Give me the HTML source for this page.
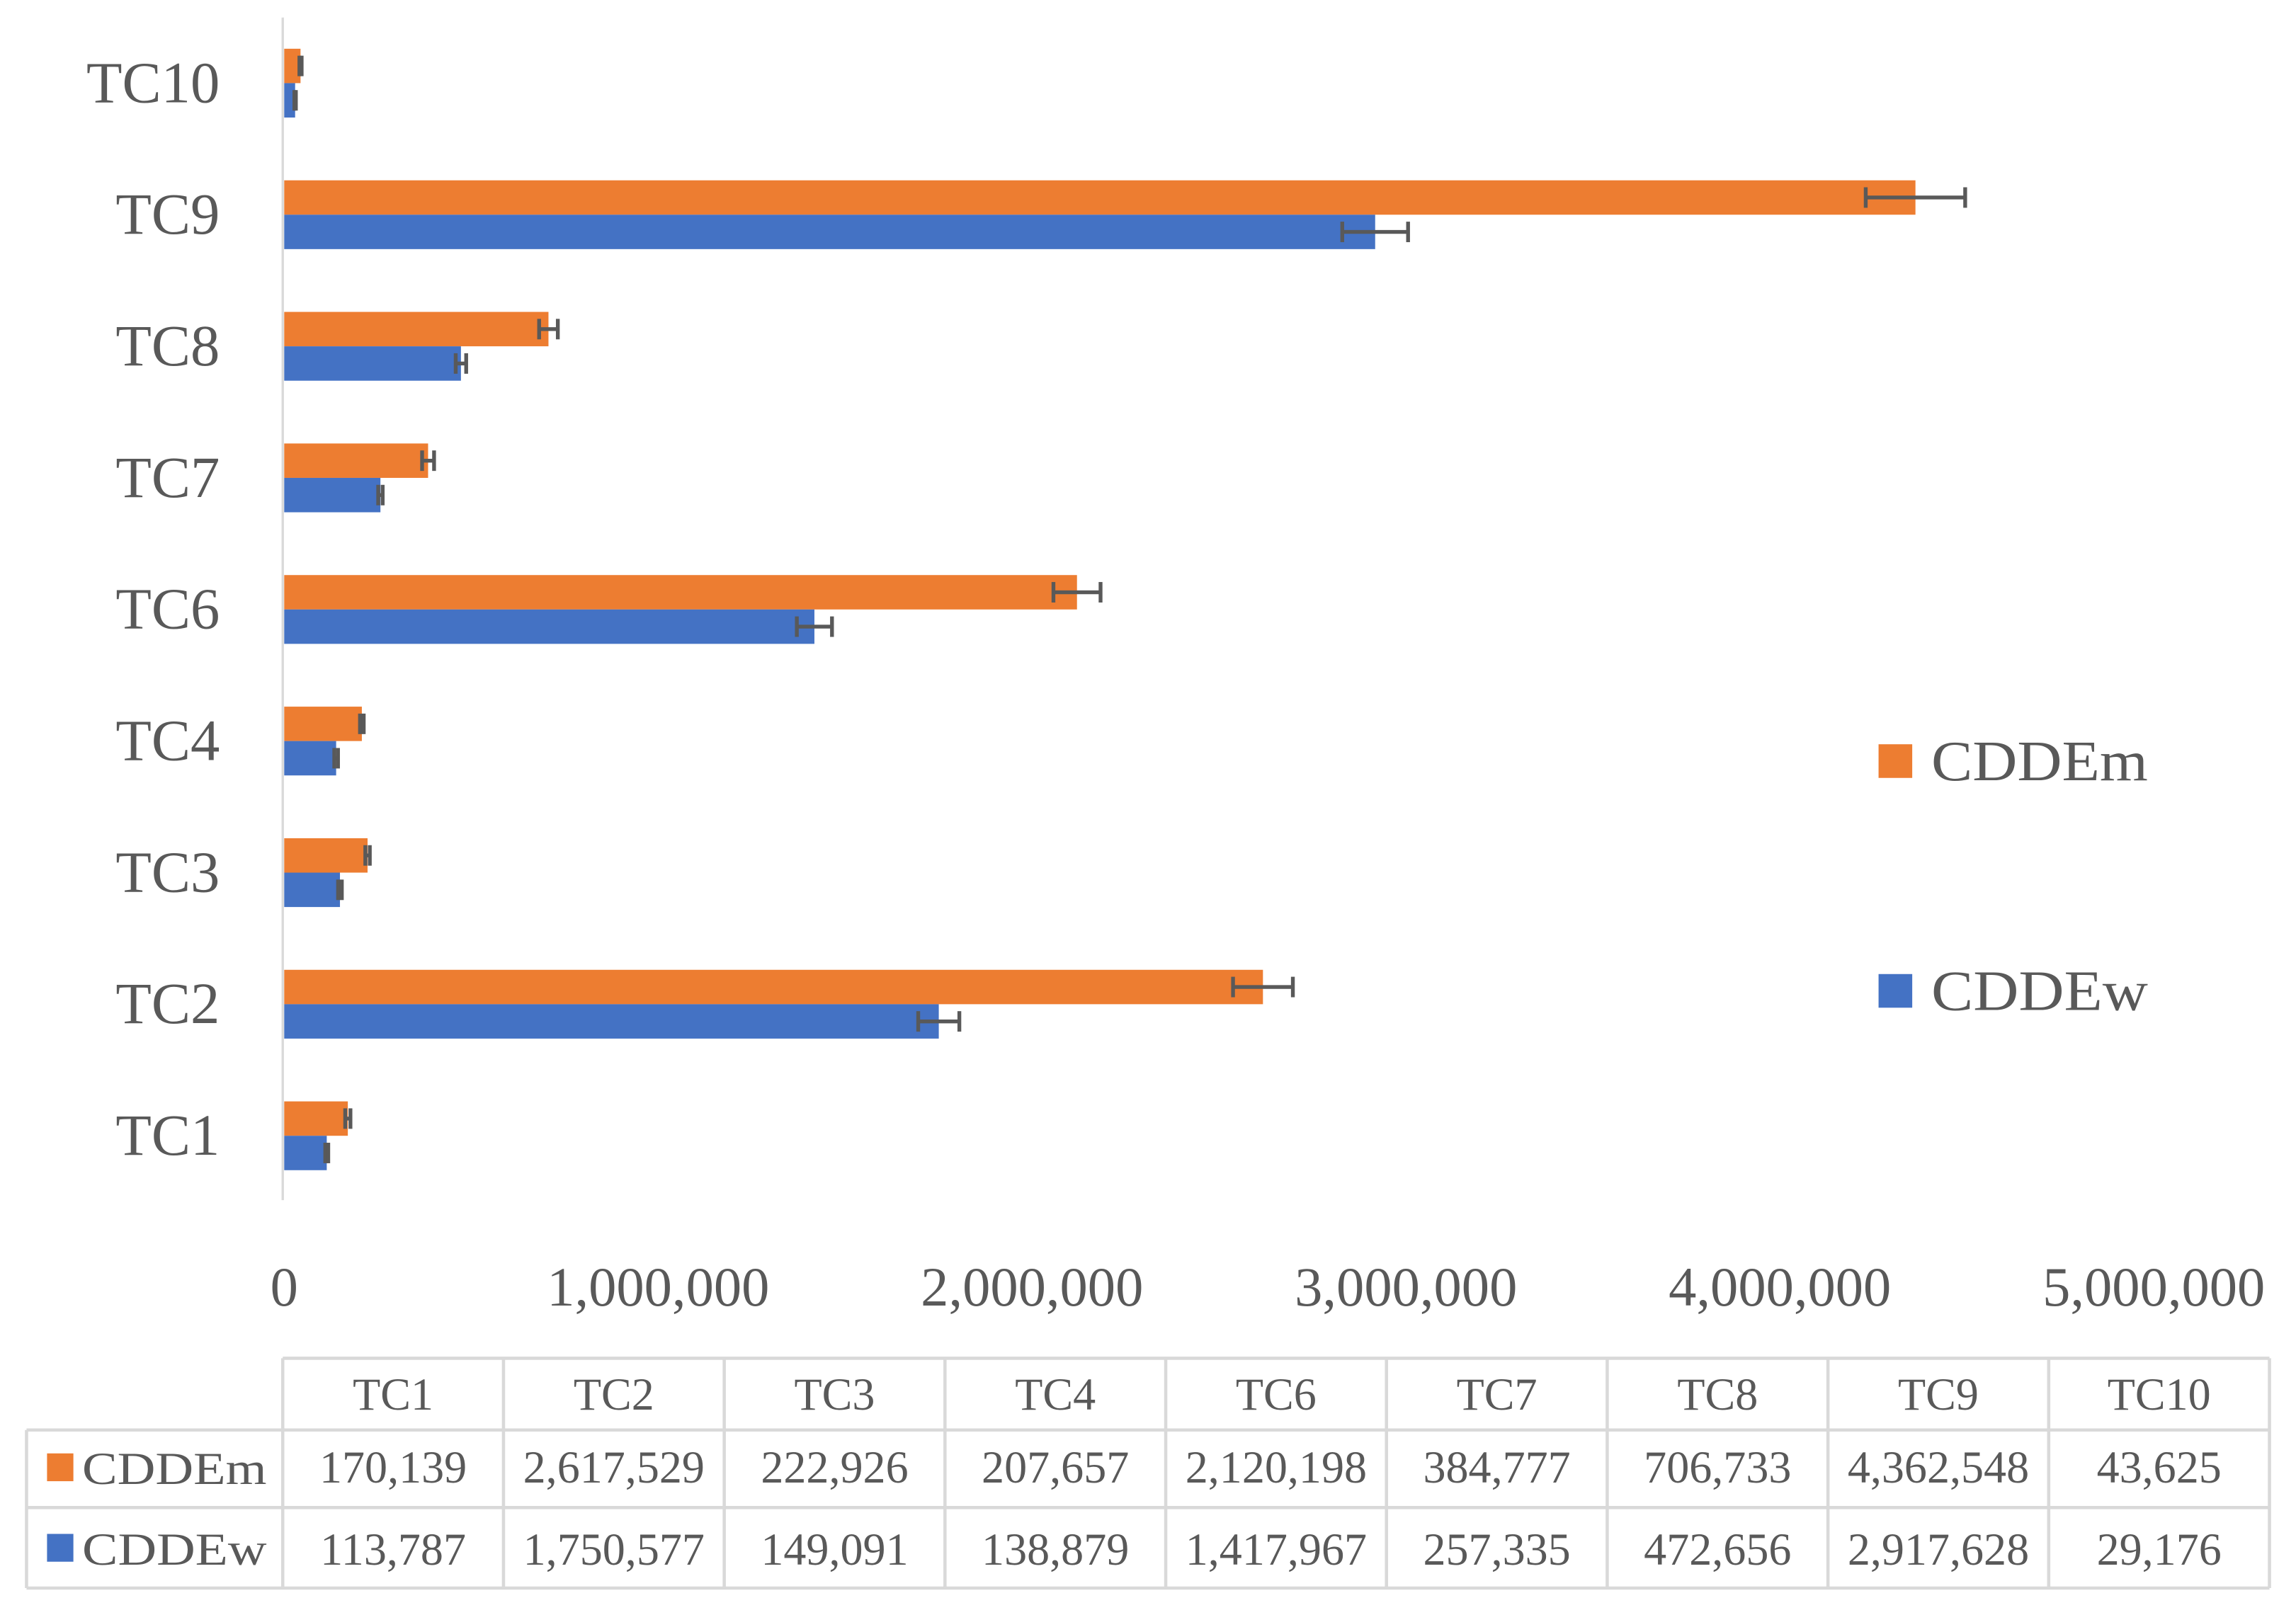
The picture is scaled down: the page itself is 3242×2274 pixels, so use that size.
<!DOCTYPE html>
<html><head><meta charset="utf-8"><style>
html,body{margin:0;padding:0;background:#fff;}
svg{display:block;}
text{font-family:"Liberation Serif",serif;fill:#595959;}
</style></head><body>
<svg id="chart" width="3242" height="2274" viewBox="0 0 1568 1100" xmlns="http://www.w3.org/2000/svg">
<rect x="0" y="0" width="1568" height="1100" fill="#fff"/>
<g id="bars"></g>
<g id="axes"></g>
<g id="legend"></g>
<g id="table"></g>
</svg>
<script>
const categories = ["TC1","TC2","TC3","TC4","TC6","TC7","TC8","TC9","TC10"];
const seriesNames = ["CDDEm","CDDEw"];
const cddem = [170139,2617529,222926,207657,2120198,384777,706733,4362548,43625];
const cddew = [113787,1750577,149091,138879,1417967,257335,472656,2917628,29176];
const errM = [7000,80000,6000,5000,63000,16000,25000,133000,3000];
const errW = [4000,55000,5000,5000,47000,6000,14000,88000,2000];
const xTicks = [0,1000000,2000000,3000000,4000000,5000000];
const xTickLabels = ["0","1,000,000","2,000,000","3,000,000","4,000,000","5,000,000"];

const NS="http://www.w3.org/2000/svg";
const colors={CDDEm:"#ED7D31",CDDEw:"#4472C4"};
const x0=194, xPerUnit=(1470-193)/5000000;
function xs(v){return x0+v*xPerUnit;}
function yc(i){return 776-i*89.9;}
function mk(tag,attrs,parent){const e=document.createElementNS(NS,tag);for(const k in attrs)e.setAttribute(k,attrs[k]);parent.appendChild(e);return e;}
const gB=document.getElementById('bars'),gA=document.getElementById('axes'),gL=document.getElementById('legend'),gT=document.getElementById('table');
const bh=23.5;
categories.forEach((c,i)=>{
  const y=yc(i);
  const m=mk('rect',{x:x0,y:y-bh,width:xs(cddem[i])-x0,height:bh,fill:colors.CDDEm},gB);
  
  
  const w=mk('rect',{x:x0,y:y,width:xs(cddew[i])-x0,height:bh,fill:colors.CDDEw},gB);
  
  
  [[cddem[i],errM[i],y-bh/2],[cddew[i],errW[i],y+bh/2]].forEach((d,k)=>{
    const g=mk('g',{stroke:"#595959","stroke-width":2.6},gB);
    
    
    const a=xs(d[0]-d[1]),b=xs(d[0]+d[1]);
    mk('line',{x1:a,x2:b,y1:d[2],y2:d[2]},g);
    mk('line',{x1:a,x2:a,y1:d[2]-7,y2:d[2]+7},g);
    mk('line',{x1:b,x2:b,y1:d[2]-7,y2:d[2]+7},g);
  });
  const t=mk('text',{x:150,y:y+13,"font-size":40,"text-anchor":"end"},gA);
  t.textContent=c;
  
  
});
const ax=mk('line',{x1:193,x2:193,y1:12,y2:820,stroke:"#d9d9d9","stroke-width":1.6},gA);


xTicks.forEach((v,i)=>{
  const t=mk('text',{x:xs(v),y:892,"font-size":38,"text-anchor":"middle"},gA);
  t.textContent=xTickLabels[i];
  
  
});
[["CDDEm",520],["CDDEw",677]].forEach(([n,y])=>{
  const g=mk('g',{},gL);
  
  
  mk('rect',{x:1283,y:y-11.5,width:23,height:23,fill:colors[n]},g);
  const t=mk('text',{x:1319,y:y+13,"font-size":39,textLength:148,lengthAdjust:"spacingAndGlyphs"},g);
  t.textContent=n;
});
const colL=193,colW=(1550-193)/9,rows=[928,977,1030,1085];
const lc="#d9d9d9";
function ln(x1,y1,x2,y2){const l=mk('line',{x1,y1,x2,y2,stroke:lc,"stroke-width":2.2},gT);}
ln(colL,rows[0],1550,rows[0]);
for(let r=1;r<4;r++)ln(18,rows[r],1550,rows[r]);
ln(18,rows[1],18,rows[3]);
for(let c=0;c<=9;c++)ln(colL+c*colW,rows[0],colL+c*colW,rows[3]);
categories.forEach((c,i)=>{
  const cx=colL+(i+0.5)*colW;
  const h=mk('text',{x:cx,y:963,"font-size":31,"text-anchor":"middle"},gT);
  h.textContent=c;
  
  
  [[cddem[i],1013],[cddew[i],1069]].forEach(([v,y],k)=>{
    const t=mk('text',{x:cx,y:y,"font-size":31,"text-anchor":"middle"},gT);
    t.textContent=v.toLocaleString('en-US');
    
    
  });
});
[["CDDEm",1003],["CDDEw",1058]].forEach(([n,y])=>{
  const g=mk('g',{},gT);
  
  
  mk('rect',{x:32,y:y-10,width:18,height:19,fill:colors[n]},g);
  const t=mk('text',{x:56,y:y+11,"font-size":31,textLength:126,lengthAdjust:"spacingAndGlyphs"},g);
  t.textContent=n;
});
</script>
</body></html>
